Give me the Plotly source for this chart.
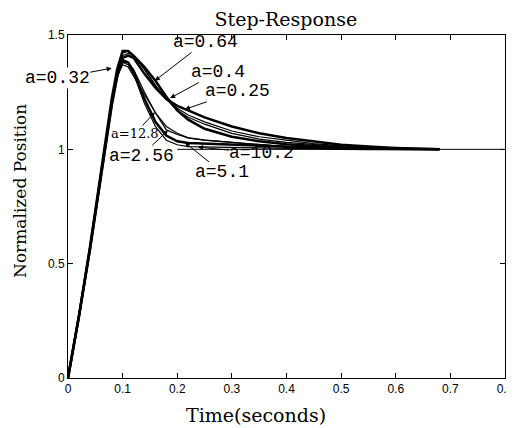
import plotly.graph_objects as go

t = [0, 0.02, 0.04, 0.06, 0.08, 0.09, 0.1, 0.11, 0.12, 0.14, 0.16, 0.18, 0.2, 0.22, 0.25, 0.3, 0.35, 0.4, 0.45, 0.5, 0.55, 0.6, 0.68]

a_025 = [0, 0.27, 0.56, 0.87, 1.19, 1.32, 1.40, 1.41, 1.40, 1.33, 1.27, 1.22, 1.19, 1.17, 1.14, 1.10, 1.07, 1.05, 1.035, 1.02, 1.012, 1.006, 1.0]
a_032 = [0, 0.27, 0.56, 0.88, 1.20, 1.33, 1.41, 1.42, 1.41, 1.35, 1.28, 1.22, 1.18, 1.15, 1.12, 1.08, 1.055, 1.04, 1.025, 1.015, 1.008, 1.004, 1.0]
a_040 = [0, 0.27, 0.57, 0.88, 1.21, 1.34, 1.42, 1.43, 1.41, 1.35, 1.28, 1.22, 1.17, 1.14, 1.11, 1.07, 1.045, 1.03, 1.02, 1.012, 1.006, 1.003, 1.0]
a_064 = [0, 0.27, 0.57, 0.89, 1.22, 1.35, 1.43, 1.43, 1.41, 1.36, 1.30, 1.23, 1.17, 1.13, 1.09, 1.055, 1.035, 1.022, 1.013, 1.007, 1.004, 1.002, 1.0]
a_256 = [0, 0.27, 0.56, 0.88, 1.20, 1.32, 1.38, 1.38, 1.35, 1.25, 1.16, 1.085, 1.065, 1.05, 1.04, 1.03, 1.02, 1.012, 1.007, 1.004, 1.002, 1.001, 1.0]
a_51 = [0, 0.27, 0.56, 0.88, 1.20, 1.32, 1.39, 1.38, 1.34, 1.22, 1.12, 1.06, 1.035, 1.028, 1.025, 1.02, 1.015, 1.01, 1.006, 1.003, 1.001, 1.0, 1.0]
a_102 = [0, 0.27, 0.56, 0.88, 1.20, 1.32, 1.38, 1.37, 1.33, 1.20, 1.10, 1.04, 1.02, 1.012, 1.01, 1.008, 1.006, 1.004, 1.002, 1.001, 1.0, 1.0, 1.0]
a_128 = [0, 0.27, 0.56, 0.88, 1.20, 1.32, 1.37, 1.36, 1.32, 1.24, 1.16, 1.10, 1.07, 1.05, 1.04, 1.03, 1.02, 1.012, 1.007, 1.004, 1.002, 1.001, 1.0]

ref_t = [0.2, 0.8]
ref_y = [1, 1]

x_ticks = [0, 0.1, 0.2, 0.3, 0.4, 0.5, 0.6, 0.7, 0.8]
x_tick_labels = ["0", "0.1", "0.2", "0.3", "0.4", "0.5", "0.6", "0.7", "0.8"]
y_ticks = [0, 0.5, 1, 1.5]
y_tick_labels = ["0", "0.5", "1", "1.5"]

series = [
    ("a=0.25", a_025, 2.5),
    ("a=0.32", a_032, 1.2),
    ("a=0.4", a_040, 1.2),
    ("a=0.64", a_064, 2.5),
    ("a=2.56", a_256, 1.2),
    ("a=5.1", a_51, 2.5),
    ("a=10.2", a_102, 1.2),
    ("a=12.8", a_128, 1.2),
]

# label: (text x, text y, tip x, tip y, font family, size, bg)
MONO = "Liberation Mono"
labels = [
    ("a=0.64", 0.251, 1.47, 0.159, 1.30, MONO, 18, None),
    ("a=0.4", 0.275, 1.338, 0.187, 1.224, MONO, 18, None),
    ("a=0.25", 0.31, 1.254, 0.214, 1.175, MONO, 18, None),
    ("a=0.32", -0.02, 1.31, 0.08, 1.355, MONO, 18, "white"),
    ("a=12.8", 0.123, 1.07, 0.159, 1.162, "DejaVu Serif", 13, None),
    ("a=2.56", 0.134, 0.972, 0.183, 1.083, MONO, 18, None),
    ("a=10.2", 0.355, 0.982, 0.238, 1.01, MONO, 18, None),
    ("a=5.1", 0.282, 0.899, 0.214, 1.03, MONO, 18, None),
]

fig = go.Figure()
fig.add_trace(go.Scatter(x=ref_t, y=ref_y, mode="lines",
                         line=dict(color="black", width=1), showlegend=False))
for name, ys, w in series:
    fig.add_trace(go.Scatter(x=t, y=ys, mode="lines", name=name,
                             line=dict(color="black", width=w), showlegend=False))

for text, tx, ty, px, py, fam, sz, bg in labels:
    fig.add_annotation(x=px, y=py, ax=tx, ay=ty, xref="x", yref="y",
                       axref="x", ayref="y", text=text, showarrow=True,
                       arrowhead=2, arrowsize=1, arrowwidth=1, arrowcolor="black",
                       font=dict(family=fam, size=sz, color="black"),
                       bgcolor=bg if bg else "rgba(0,0,0,0)", borderpad=0)

# axis titles as annotations for exact placement
fig.add_annotation(x=-0.11, y=0.545, xref="paper", yref="paper", text="Normalized Position",
                   textangle=-90, showarrow=False, xanchor="center", yanchor="middle",
                   font=dict(family="DejaVu Serif", size=17, color="black"))
fig.add_annotation(x=0.43, y=-0.108, xref="paper", yref="paper", text="Time(seconds)",
                   showarrow=False, xanchor="center", yanchor="middle",
                   font=dict(family="DejaVu Serif", size=19, color="black"))

axis_common = dict(showgrid=False, zeroline=False, showline=True, linecolor="black",
                   linewidth=1, mirror="ticks", ticks="inside", ticklen=5, automargin=False,
                   tickcolor="black", tickfont=dict(family="Liberation Sans", size=12, color="black"))

fig.update_xaxes(range=[0, 0.8], tickvals=x_ticks, ticktext=x_tick_labels, **axis_common)
fig.update_yaxes(range=[0, 1.5], tickvals=y_ticks, ticktext=y_tick_labels, **axis_common)

# page body adds an 8px margin, so the figure is 8px smaller than the window
fig.update_layout(
    width=507, height=420,
    margin=dict(l=60, r=10, t=27, b=50),
    paper_bgcolor="white", plot_bgcolor="white",
    title=dict(text="Step-Response", x=0.548, xanchor="center", y=0.972, yanchor="middle",
               font=dict(family="DejaVu Serif", size=19, color="black")),
)

fig.write_html("out.html")
